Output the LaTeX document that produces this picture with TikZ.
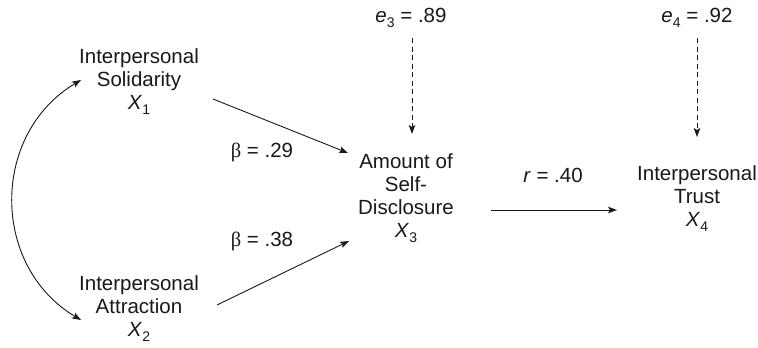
\documentclass[tikz,border=0pt]{standalone}
\usepackage{fontspec}
\setmainfont{Liberation Sans}
\newfontfamily\grk{Liberation Serif}
\usetikzlibrary{arrows.meta}
\newcommand{\vx}[2]{\textit{#1}\raisebox{-5pt}{\fontsize{14}{14}\selectfont #2}}
\begin{document}
\begin{tikzpicture}[x=1pt,y=-1pt,
  lbl/.style={font=\fontsize{20.5}{23}\selectfont, align=center, inner sep=0pt, text=black!90},
  arr/.style={-{Stealth[length=9pt,width=6.5pt,inset=2pt]}, line width=0.9pt, black!90},
  dasharr/.style={arr, dash pattern=on 5pt off 3.5pt},
  bothArr/.style={{Stealth[length=9pt,width=6.5pt,inset=2pt]}-{Stealth[length=9pt,width=6.5pt,inset=2pt]}, line width=0.9pt, black!90}]
\useasboundingbox (0,0) rectangle (758,348);
\fill[white] (0,0) rectangle (758,348);
% nodes
\node[lbl] (x1) at (139,82) {Interpersonal\\Solidarity\\\vx{X}{1}};
\node[lbl] (x2) at (139,309) {Interpersonal\\Attraction\\\vx{X}{2}};
\node[lbl] (x3) at (406,198) {Amount of\\Self-\\Disclosure\\\vx{X}{3}};
\node[lbl] (x4) at (697,199) {Interpersonal\\Trust\\\vx{X}{4}};
\node[lbl] (e3) at (411,18) {\vx{e}{3} = .89};
\node[lbl] (e4) at (697,18) {\vx{e}{4} = .92};
\node[lbl] (b1) at (262,152) {{\grk β} = .29};
\node[lbl] (b2) at (262,241) {{\grk β} = .38};
\node[lbl] (r1) at (553,175) {\textit{r} = .40};
% connector end points
\coordinate (x1o) at (213,99);
\coordinate (x3a) at (348,153);
\coordinate (x2o) at (217,305);
\coordinate (x3b) at (349,241);
\coordinate (x3o) at (491,210);
\coordinate (x4i) at (617,210);
\coordinate (e3o) at (412,38);
\coordinate (x3t) at (412,134);
\coordinate (e4o) at (697,38);
\coordinate (x4t) at (697,137);
\coordinate (x1c) at (81,80);
\coordinate (x2c) at (81,320);
% connectors
\draw[arr] (x1o) -- (x3a);
\draw[arr] (x2o) -- (x3b);
\draw[arr] (x3o) -- (x4i);
\draw[dasharr] (e3o) -- (x3t);
\draw[dasharr] (e4o) -- (x4t);
\draw[bothArr] (x1c) .. controls (-9.5,134) and (-9.5,266) .. (x2c);
\end{tikzpicture}
\end{document}
